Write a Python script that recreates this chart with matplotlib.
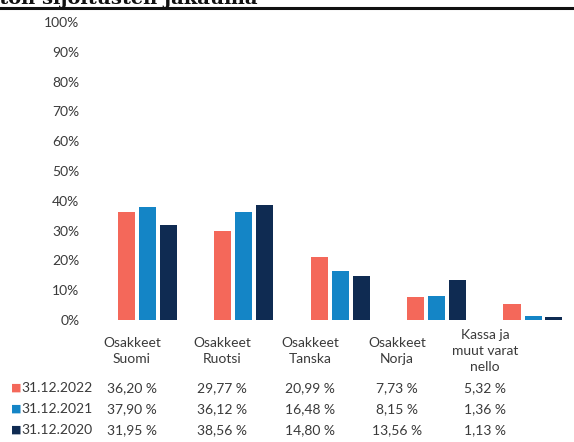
import matplotlib
matplotlib.use("Agg")
import matplotlib.pyplot as plt
from matplotlib.ticker import FuncFormatter

# data
categories = ["Osakkeet\nSuomi", "Osakkeet\nRuotsi", "Osakkeet\nTanska",
              "Osakkeet\nNorja", "Kassa ja\nmuut varat\nnello"]
series_names = ["31.12.2022", "31.12.2021", "31.12.2020"]
vals_2022 = [36.20, 29.77, 20.99, 7.73, 5.32]
vals_2021 = [37.90, 36.12, 16.48, 8.15, 1.36]
vals_2020 = [31.95, 38.56, 14.80, 13.56, 1.13]
colors = ["#f4685a", "#1485c6", "#0f2b52"]

W, H = 574, 442
TXT = "#3a3a3a"
FS = 10
plt.rcParams['font.family'] = ['Lato', 'DejaVu Sans']

fig = plt.figure(figsize=(W / 100, H / 100), dpi=100)


def px(x, y):
    # pixel (from top-left) -> figure fraction
    return x / W, 1 - y / H


# bar area: group pitch ~96.5 px, first group centre at x=147, 0% at y=320, 100% at y=22
pitch = 96.5
left = 147 - 0.5 * pitch
ax = fig.add_axes([left / W, (H - 320) / H, 4.8 * pitch / W, (320 - 22) / H])
ax.set_xlim(-0.5, 4.3)
ax.set_ylim(0, 100)

bw = 17 / pitch
step = 21 / pitch
xs = list(range(len(categories)))
for i, (vals, c) in enumerate(zip([vals_2022, vals_2021, vals_2020], colors)):
    ax.bar([x + (i - 1) * step for x in xs], vals, width=bw, color=c, linewidth=0)

ax.set_yticks(range(0, 101, 10))
ax.yaxis.set_major_formatter(FuncFormatter(lambda v, p: f"{int(v)}%"))
ax.tick_params(axis='y', length=0, pad=14, labelsize=FS, labelcolor=TXT)
ax.set_xticks([])
for s in ax.spines.values():
    s.set_visible(False)

# title (cut off at the top edge in the reference) with rule beneath it
fig.text(*px(258, 3.5), "Rahaston sijoitusten jakauma", ha='right', va='baseline',
         fontsize=14, fontweight='bold', family='DejaVu Serif', color='#111111')
fig.add_artist(plt.Line2D([0, 1], [1 - 8 / H, 1 - 8 / H], color='#111111', lw=2.2))

# data table below the chart
col_x = [132, 222, 310, 397, 485]
for cx, cat in zip(col_x, categories):
    fig.text(*px(cx, 351), cat, ha='center', va='center', fontsize=FS,
             color=TXT, linespacing=1.4)

row_y = [388, 409, 430]
for ry, name, vals, c in zip(row_y, series_names,
                             [vals_2022, vals_2021, vals_2020], colors):
    fig.text(*px(11, ry), "\u25a0", ha='left', va='center', fontsize=8, color=c,
             family='DejaVu Sans')
    fig.text(*px(21, ry), name, ha='left', va='center', fontsize=FS, color=TXT)
    for cx, v in zip(col_x, vals):
        fig.text(*px(cx, ry), f"{v:.2f} %".replace('.', ','), ha='center',
                 va='center', fontsize=FS, color=TXT)

fig.savefig("out.png", dpi=100)
